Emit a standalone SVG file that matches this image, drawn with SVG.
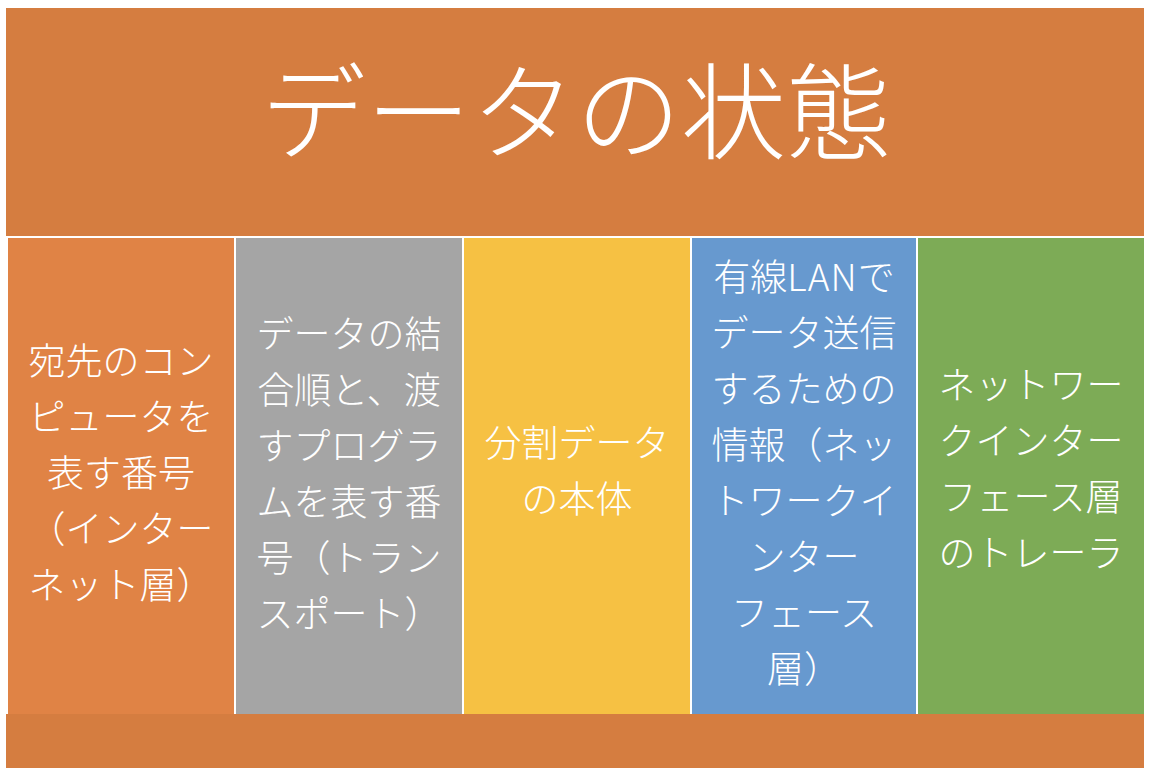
<svg xmlns="http://www.w3.org/2000/svg" width="1154" height="776" viewBox="0 0 1154 776">
<style>
.t{font-family:"Noto Sans CJK JP","Noto Sans",sans-serif;font-weight:300;fill:#ffffff;text-anchor:middle}
.c{font-size:37px}
.title{font-size:105px}
</style>
<rect x="0" y="0" width="1154" height="776" fill="#ffffff"/>
<g id="header">
<rect x="6" y="8" width="1138" height="228" fill="#D57D40"/>
<text class="t title" x="576" y="151">データの状態</text>
</g>
<g id="col-ip">
<rect x="8" y="238" width="226" height="476" fill="#E08345"/>
<text class="t c" x="121" y="375">宛先のコン</text>
<text class="t c" x="121" y="431">ピュータを</text>
<text class="t c" x="121" y="487">表す番号</text>
<text class="t c" x="121" y="543">（インター</text>
<text class="t c" x="121" y="599">ネット層）</text>
</g>
<g id="col-transport">
<rect x="236" y="238" width="226" height="476" fill="#A5A5A5"/>
<text class="t c" x="349" y="348">データの結</text>
<text class="t c" x="349" y="404">合順と、渡</text>
<text class="t c" x="349" y="460">すプログラ</text>
<text class="t c" x="349" y="516">ムを表す番</text>
<text class="t c" x="349" y="572">号（トラン</text>
<text class="t c" x="349" y="628">スポート）</text>
</g>
<g id="col-data">
<rect x="464" y="238" width="226" height="476" fill="#F6C143"/>
<text class="t c" x="577" y="457">分割データ</text>
<text class="t c" x="577" y="513">の本体</text>
</g>
<g id="col-lan">
<rect x="692" y="238" width="224" height="476" fill="#6799CF"/>
<text class="t c" x="804" y="291">有線<tspan letter-spacing="1">LAN</tspan>で</text>
<text class="t c" x="804" y="347">データ送信</text>
<text class="t c" x="804" y="403">するための</text>
<text class="t c" x="804" y="459">情報（ネッ</text>
<text class="t c" x="804" y="515">トワークイ</text>
<text class="t c" x="804" y="571">ンター</text>
<text class="t c" x="804" y="627">フェース</text>
<text class="t c" x="804" y="683">層）</text>
</g>
<g id="col-trailer">
<rect x="918" y="238" width="226" height="476" fill="#7DAB56"/>
<text class="t c" x="1031" y="399">ネットワー</text>
<text class="t c" x="1031" y="455">クインター</text>
<text class="t c" x="1031" y="511">フェース層</text>
<text class="t c" x="1031" y="567">のトレーラ</text>
</g>
<g id="footer">
<rect x="6" y="714" width="1138" height="54" fill="#D57D40"/>
</g>
<g id="connectors"></g>
</svg>
